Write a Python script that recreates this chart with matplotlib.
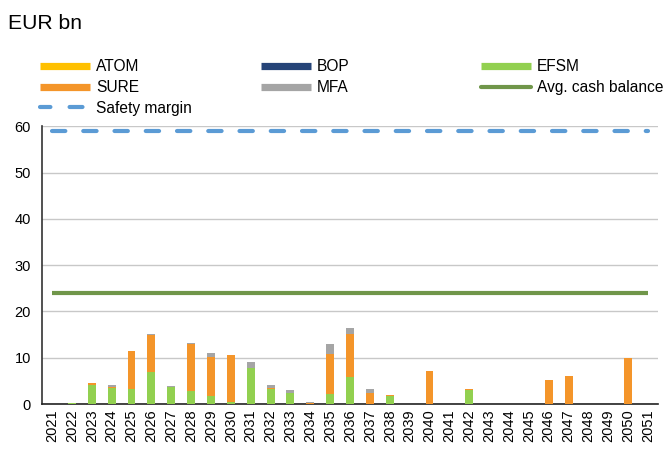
import matplotlib
matplotlib.use("Agg")
import matplotlib.pyplot as plt
from matplotlib.lines import Line2D
import numpy as np

years = [str(y) for y in range(2021, 2052)]
atom = [0]*31
bop = [0]*31
efsm = [0, 0.2, 4.2, 3.4, 3.3, 6.9, 3.7, 2.9, 1.8, 0.5, 7.7, 3.3, 2.4, 0, 2.2, 5.9, 0, 1.8, 0, 0,
        0, 3.1, 0, 0, 0, 0, 0, 0, 0, 0, 0]
sure = [0, 0, 0.3, 0.2, 8.1, 8.1, 0, 10.1, 8.3, 10.1, 0.2, 0.2, 0, 0.2, 8.7, 9.2, 2.4, 0.2, 0.1, 7.2,
        0.1, 0.1, 0, 0, 0, 5.1, 6.0, 0, 0, 10.0, 0]
mfa = [0, 0, 0, 0.6, 0.1, 0.2, 0.2, 0.2, 1.0, 0, 1.2, 0.7, 0.7, 0.3, 2.1, 1.4, 0.9, 0, 0, 0,
       0, 0, 0, 0, 0, 0, 0, 0, 0, 0, 0]
avg_cash = 24
safety_margin = 59

c_atom = "#ffc000"
c_bop = "#264478"
c_efsm = "#92d050"
c_sure = "#f4952a"
c_mfa = "#a5a5a5"
c_avg = "#70964a"
c_safe = "#5b9bd5"

plt.rcParams['font.family'] = ['Liberation Sans', 'DejaVu Sans']
fig = plt.figure(figsize=(6.68, 4.51), dpi=100)
ax = fig.add_axes([0.063, 0.104, 0.922, 0.616])

x = np.arange(len(years))
w = 0.4
bottom = np.zeros(len(years))
for vals, col in [(atom, c_atom), (bop, c_bop), (efsm, c_efsm), (sure, c_sure), (mfa, c_mfa)]:
    v = np.array(vals, dtype=float)
    ax.bar(x, v, w, bottom=bottom, color=col, zorder=3)
    bottom += v

ax.plot([x[0], x[-1]], [avg_cash, avg_cash], color=c_avg, lw=3, zorder=4, solid_capstyle='butt')
ax.plot([x[0], x[-1]], [safety_margin, safety_margin], color=c_safe, lw=3, zorder=4,
        linestyle=(0, (3.2, 4.3)), dash_capstyle='round')

ax.set_xlim(-0.5, len(years) - 0.5)
ax.set_ylim(0, 60)
ax.set_yticks(range(0, 61, 10))
ax.set_xticks(x)
ax.set_xticklabels(years, rotation=90, fontsize=10.5)
ax.tick_params(axis='y', labelsize=10.5, length=0, pad=8)
ax.tick_params(axis='x', length=0, pad=4)
ax.yaxis.grid(True, color="#c8c8c8", lw=1, zorder=0)
for s in ['top', 'right']:
    ax.spines[s].set_visible(False)
ax.spines['left'].set_color('#333333')
ax.spines['bottom'].set_color('#222222')
ax.spines['left'].set_linewidth(1.2)
ax.spines['bottom'].set_linewidth(1.2)

fig.text(0.012, 0.948, "EUR bn", fontsize=15.2, va='center', ha='left')

def h(col, lw=5.2, ls='-', cap='butt'):
    return Line2D([], [], color=col, lw=lw, linestyle=ls, solid_capstyle=cap, dash_capstyle='round')

cols = [
    ([h(c_atom), h(c_sure), h(c_safe, lw=3, ls=(0.6, (3.1, 4.6)))], ["ATOM", "SURE", "Safety margin"], 0.0599),
    ([h(c_bop), h(c_mfa)], ["BOP", "MFA"], 0.3907),
    ([h(c_efsm), h(c_avg, lw=3, cap='round')], ["EFSM", "Avg. cash balance"], 0.720),
]
for hs, ls_, xpos in cols:
    fig.legend(hs, ls_, loc='upper left', bbox_to_anchor=(xpos, 0.869), frameon=False,
               fontsize=11.2, handlelength=3.2, handletextpad=0.4, labelspacing=0.38,
               borderaxespad=0, borderpad=0)

fig.savefig("out.png", dpi=100)
